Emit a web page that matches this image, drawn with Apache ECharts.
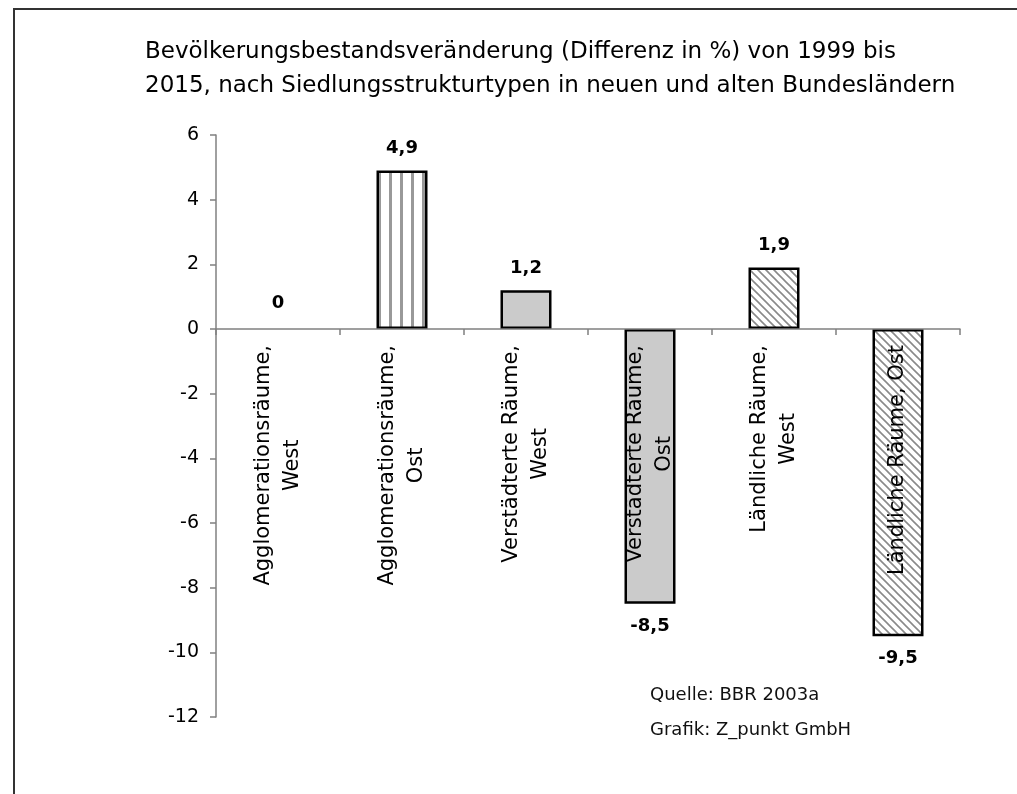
<!DOCTYPE html>
<html>
<head>
<meta charset="utf-8">
<script src="https://cdn.jsdelivr.net/npm/echarts@6/dist/echarts.min.js"></script>
<style>html,body{margin:0;padding:0;background:#fff}#c{width:1017px;height:794px}</style>
</head>
<body>
<div id="c"></div>
<script>
const categories = [
  ['Agglomerationsräume,', 'West'],
  ['Agglomerationsräume,', 'Ost'],
  ['Verstädterte Räume,', 'West'],
  ['Verstädterte Räume,', 'Ost'],
  ['Ländliche Räume,', 'West'],
  ['Ländliche Räume, Ost']
];
const values = [0, 4.9, 1.2, -8.5, 1.9, -9.5];
const fills = ['plain', 'vstripe', 'grey', 'grey', 'hatch', 'hatch'];
const yTicks = { min: -12, max: 6, interval: 2 };
const titleLines = ['Bevölkerungsbestandsveränderung (Differenz in %) von 1999 bis', '2015, nach Siedlungsstrukturtypen in neuen und alten Bundesländern'];
const sourceLines = ['Quelle: BBR 2003a', 'Grafik: Z_punkt GmbH'];

function makeVStripe() {
  const c = document.createElement('canvas');
  c.width = 11; c.height = 11;
  const g = c.getContext('2d');
  g.fillStyle = '#fff'; g.fillRect(0, 0, 11, 11);
  g.fillStyle = '#999'; g.fillRect(4, 0, 3, 11);
  return c;
}
function makeHatch() {
  const s = 8;
  const c = document.createElement('canvas');
  c.width = s; c.height = s;
  const g = c.getContext('2d');
  g.fillStyle = '#fff'; g.fillRect(0, 0, s, s);
  g.strokeStyle = '#8a8a8a'; g.lineWidth = 1.6;
  g.beginPath();
  g.moveTo(-1, -1); g.lineTo(s + 1, s + 1);
  g.moveTo(-1, s - 1); g.lineTo(1, s + 1);
  g.moveTo(s - 1, -1); g.lineTo(s + 1, 1);
  g.stroke();
  return c;
}
const patterns = {
  plain: '#ffffff',
  grey: '#cbcbcb',
  vstripe: { image: makeVStripe(), repeat: 'repeat' },
  hatch: { image: makeHatch(), repeat: 'repeat' }
};

const font = 'DejaVu Sans';
const gridTop = 135, gridBottom = 77, chartH = 794;
// pixel distance from bottom of grid to the zero line, used to lift the label axis
const plotH = chartH - gridTop - gridBottom;
const zeroOffset = plotH * (0 - yTicks.min) / (yTicks.max - yTicks.min);

const chart = echarts.init(document.getElementById('c'));
chart.setOption({
  animation: false,
  backgroundColor: '#fff',
  title: {
    text: titleLines.join('\n'),
    left: 140, top: 30,
    textStyle: { fontFamily: font, fontSize: 23, fontWeight: 'normal', color: '#000', lineHeight: 34 }
  },
  grid: { left: 216, right: 57, top: gridTop, bottom: gridBottom, containLabel: false, outerBoundsMode: 'none' },
  xAxis: [{
    type: 'category',
    data: categories.map(c => c.join('\n')),
    z: 5,
    axisLine: { onZero: true, lineStyle: { color: '#808080', width: 1.5 } },
    axisTick: { show: true, interval: 0, length: 6, lineStyle: { color: '#808080', width: 1.5 } },
    axisLabel: { show: false },
    splitLine: { show: false }
  }, {
    type: 'category',
    position: 'bottom',
    offset: -zeroOffset,
    data: categories.map(c => c.join('\n')),
    z: 6,
    axisLine: { show: false, onZero: false },
    axisTick: { show: false },
    axisLabel: {
      interval: 0, rotate: 90, margin: 16,
      fontFamily: font, fontSize: 21, color: '#000',
      formatter: v => v.split('\n').map(l => '{a|' + l + '}').join('\n'),
      rich: { a: { align: 'center', fontFamily: font, fontSize: 21, lineHeight: 29, color: '#000' } }
    },
    splitLine: { show: false }
  }],
  yAxis: {
    type: 'value',
    min: yTicks.min, max: yTicks.max, interval: yTicks.interval,
    axisLine: { show: true, lineStyle: { color: '#808080', width: 1.5 } },
    axisTick: { show: true, length: 6, lineStyle: { color: '#808080', width: 1.5 } },
    axisLabel: { margin: 17, fontFamily: font, fontSize: 19, color: '#000' },
    splitLine: { show: false }
  },
  series: [{
    type: 'bar',
    barWidth: 51,
    data: values.map((v, i) => ({
      value: v,
      itemStyle: {
        color: patterns[fills[i]],
        borderColor: '#000',
        borderWidth: v === 0 ? 0 : 2.5
      },
      label: { position: v < 0 ? 'bottom' : 'top', distance: v === 0 ? 17 : 13 }
    })),
    label: {
      show: true,
      fontFamily: font, fontSize: 18, fontWeight: 'bold', color: '#000',
      formatter: p => String(p.value).replace('.', ',')
    }
  }],
  graphic: [
    { type: 'polyline', shape: { points: [[14, 794], [14, 9], [1017, 9]] }, style: { stroke: '#333', lineWidth: 2, fill: null } },
    { type: 'text', left: 650, top: 686, style: { text: sourceLines[0], fontFamily: font, fontSize: 18, fill: '#111' } },
    { type: 'text', left: 650, top: 721, style: { text: sourceLines[1], fontFamily: font, fontSize: 18, fill: '#111' } }
  ]
});
</script>
</body>
</html>
